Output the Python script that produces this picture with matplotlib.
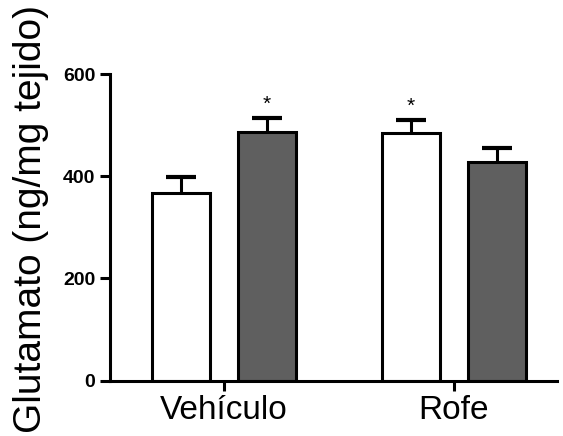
import matplotlib
matplotlib.use("Agg")
import matplotlib.pyplot as plt
import numpy as np

plt.rcParams['font.family'] = ['Liberation Sans', 'DejaVu Sans']

# Data
groups = ["Vehículo", "Rofe"]
white_vals = [367, 485]
white_err = [31, 26]
gray_vals = [487, 427]
gray_err = [27, 29]
white_sig = [False, True]
gray_sig = [True, False]
yticks = [0, 200, 400, 600]

fig = plt.figure(figsize=(5.63, 4.36), dpi=100)
ax = fig.add_axes([0.195, 0.127, 0.795, 0.703])

x = np.arange(len(groups))
w = 0.252
off = 0.187

ax.bar(x - off, white_vals, w, color="white", edgecolor="black", linewidth=2.2, zorder=2)
ax.bar(x + off, gray_vals, w, color="#5f5f5f", edgecolor="black", linewidth=2.2, zorder=2)

# only upper error bars (hide the lower cap that sits on the bar top)
for xs, vals, errs in [(x - off, white_vals, white_err), (x + off, gray_vals, gray_err)]:
    _, caps, _ = ax.errorbar(xs, vals, yerr=[np.zeros(len(xs)), errs], fmt="none",
                             ecolor="black", elinewidth=2.2, capsize=11, capthick=3, zorder=1)
    caps[0].set_visible(False)

for i in range(len(groups)):
    if white_sig[i]:
        ax.text(x[i] - off, white_vals[i] + white_err[i] + 8, "*", ha="center", va="bottom", fontsize=15)
    if gray_sig[i]:
        ax.text(x[i] + off, gray_vals[i] + gray_err[i] + 8, "*", ha="center", va="bottom", fontsize=15)

ax.set_ylim(0, 600)
ax.set_xlim(-0.496, 1.45)
ax.set_yticks(yticks)
ax.set_yticklabels([str(t) for t in yticks], fontsize=14, fontweight="bold")
ax.set_xticks(x)
ax.set_xticklabels(groups, fontsize=24)

for s in ["top", "right"]:
    ax.spines[s].set_visible(False)
for s in ["left", "bottom"]:
    ax.spines[s].set_linewidth(2.2)
ax.tick_params(axis="both", width=2.2, length=7, direction="out")
ax.tick_params(axis="x", pad=3)

fig.text(31 / 563, 1 - 219 / 436, "Glutamato (ng/mg tejido)", rotation=90,
         ha="center", va="center", fontsize=28)

fig.savefig("out.png", dpi=100)
